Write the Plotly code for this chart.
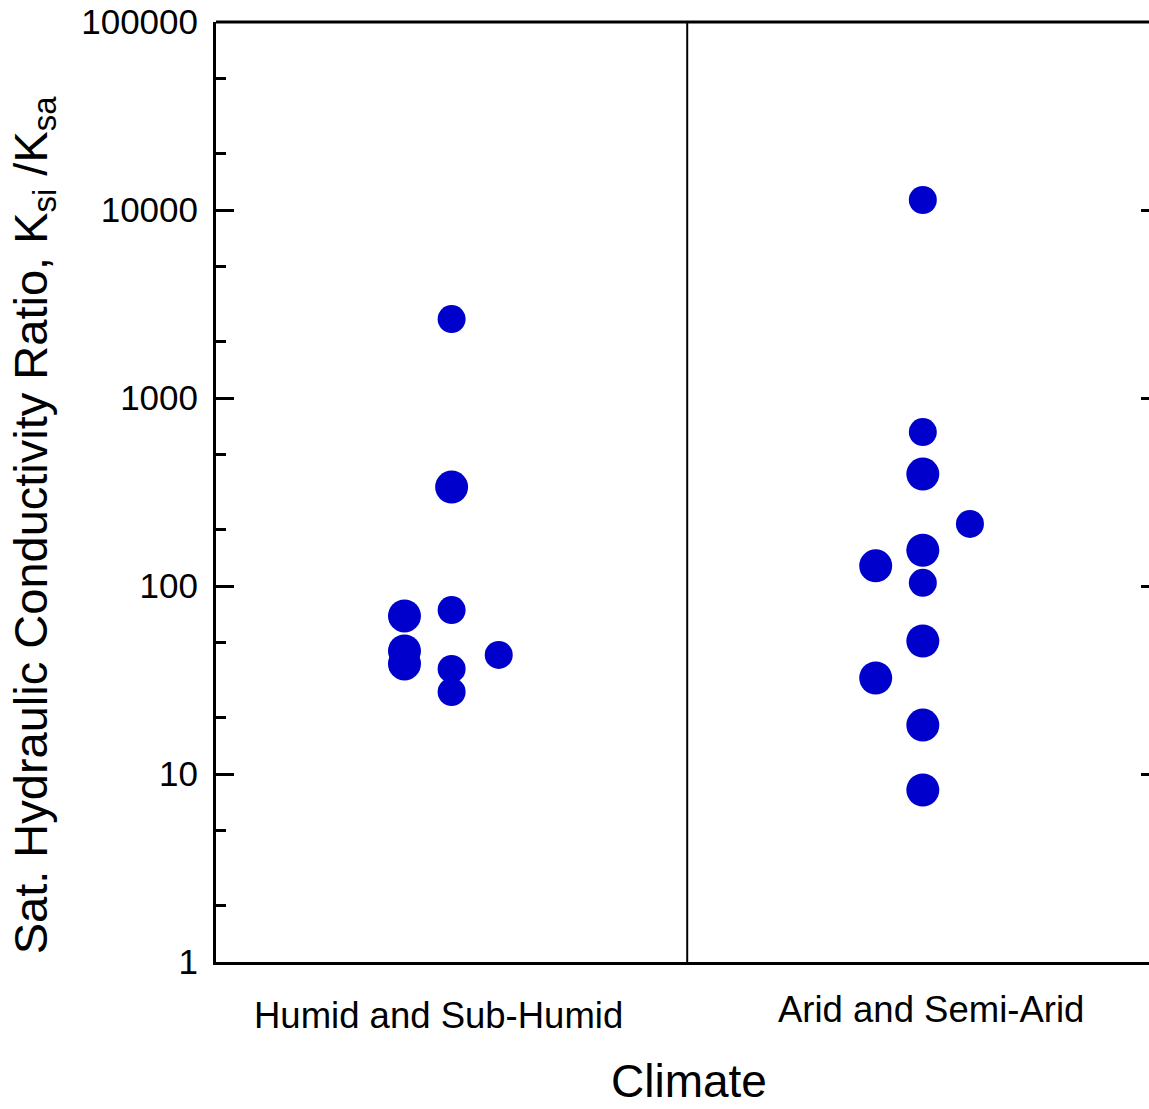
import plotly.graph_objects as go

# ---- data ----
categories = ["Humid and Sub-Humid", "Arid and Semi-Arid"]

humid_ratio = [2630, 336, 69.3, 74.5, 45.1, 38.5, 43.0, 36.2, 27.3]
humid_col = [0, 0, -1, 0, -1, -1, 1, 0, 0]
humid_big = [0, 1, 1, 0, 1, 1, 0, 0, 0]

arid_ratio = [11300, 659, 394, 214, 128, 155, 104, 51.0, 32.4, 18.2, 8.22]
arid_col = [0, 0, 0, 1, -1, 0, 0, 0, -1, 0, 0]
arid_big = [0, 0, 1, 0, 1, 1, 0, 1, 1, 1, 1]

tick_vals = [1, 10, 100, 1000, 10000, 100000]
tick_text = ["1", "10", "100", "1000", "10000", "100000"]

x_title = "Climate"
y_title = "Sat. Hydraulic Conductivity Ratio, K<sub>si</sub> /K<sub>sa</sub>"

# ---- styling ----
BLUE = "#0000cc"
FONT = "Liberation Sans, Arial, sans-serif"
SMALL, LARGE = 28, 33
SPREAD = 0.2
centers = [1, 3]

fig = go.Figure()
for ci, (vals, cols, big) in enumerate([(humid_ratio, humid_col, humid_big),
                                        (arid_ratio, arid_col, arid_big)]):
    fig.add_trace(go.Scatter(
        x=[centers[ci] + c * SPREAD for c in cols],
        y=vals,
        mode="markers",
        marker=dict(color=BLUE, size=[LARGE if b else SMALL for b in big],
                    line=dict(width=0), opacity=1),
        showlegend=False, hoverinfo="y",
    ))

# invisible trace to attach right-side tick axis
fig.add_trace(go.Scatter(x=[None], y=[None], yaxis="y2", showlegend=False))

fig.update_layout(
    width=1149, height=1109,
    margin=dict(l=216, r=0, t=22, b=147),
    paper_bgcolor="white", plot_bgcolor="white",
    font=dict(family=FONT, color="black"),
    xaxis=dict(range=[0, 3.96], showgrid=False, zeroline=False,
               showline=True, linecolor="black", linewidth=3,
               showticklabels=False, ticks=""),
    yaxis=dict(type="log", range=[0, 5], showgrid=False, zeroline=False,
               showline=True, linecolor="black", linewidth=3,
               ticks="inside", ticklen=18, tickwidth=3, tickcolor="black",
               tickvals=tick_vals, ticktext=tick_text,
               tickfont=dict(size=35, family=FONT),
               ticklabelstandoff=8,
               minor=dict(ticks="inside", ticklen=10, tickwidth=3,
                          tickcolor="black", showgrid=False)),
    yaxis2=dict(type="log", range=[0, 5], overlaying="y", side="right",
                showgrid=False, zeroline=False, showline=False,
                ticks="inside", ticklen=8, tickwidth=3, tickcolor="black",
                tickvals=tick_vals[1:-1], showticklabels=False),
)

# top border and the divider between climate groups
fig.add_shape(type="line", xref="paper", yref="paper", x0=0, x1=1, y0=1, y1=1,
              line=dict(color="black", width=3))
fig.add_shape(type="line", xref="x", yref="paper", x0=2, x1=2, y0=0, y1=1,
              line=dict(color="black", width=2))

# category labels, x title, y title
fig.add_annotation(text=categories[0], x=0.238, xref="paper", y=-0.0564, yref="paper",
                   showarrow=False, font=dict(size=36.5, family=FONT),
                   xanchor="center", yanchor="middle")
fig.add_annotation(text=categories[1], x=0.766, xref="paper", y=-0.051, yref="paper",
                   showarrow=False, font=dict(size=36.5, family=FONT),
                   xanchor="center", yanchor="middle")
fig.add_annotation(text=x_title, x=0.507, xref="paper", y=-0.1564, yref="paper",
                   showarrow=False, font=dict(size=46, family=FONT),
                   xanchor="center", yanchor="bottom")
fig.add_annotation(text=y_title, x=-0.230, xref="paper", y=0.465, yref="paper",
                   showarrow=False, textangle=-90, font=dict(size=47, family=FONT),
                   xanchor="left", yanchor="middle")

fig.write_html("out.html", config={"displayModeBar": False},
               post_script="document.body.style.margin='0';")
